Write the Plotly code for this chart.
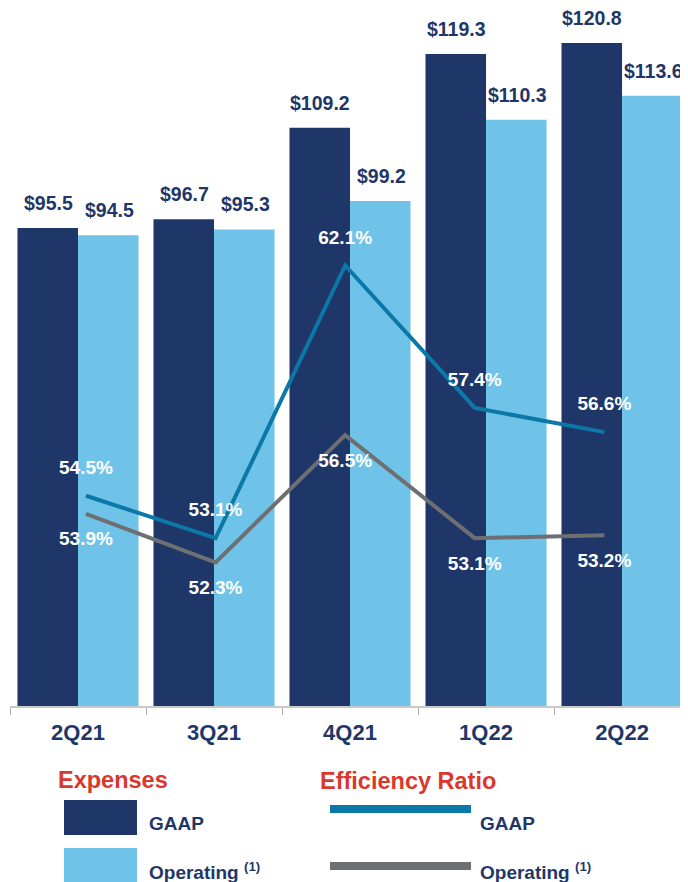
import plotly.graph_objects as go

quarters = ['2Q21', '3Q21', '4Q21', '1Q22', '2Q22']
expenses_gaap = [95.5, 96.7, 109.2, 119.3, 120.8]
expenses_operating = [94.5, 95.3, 99.2, 110.3, 113.6]
eff_gaap = [54.5, 53.1, 62.1, 57.4, 56.6]
eff_operating = [53.9, 52.3, 56.5, 53.1, 53.2]

NAVY = '#1F3768'
LIGHT = '#6FC3E8'
TEAL = '#0B78A8'
GRAY = '#6E6F72'
RED = '#D9382C'
FONT = 'Liberation Sans, Arial, sans-serif'

# the page body adds an 8px margin, so the figure is 8px smaller than the window
OFF = 8
W, H = 688 - OFF, 882 - OFF
AXIS_ROW = 706  # window row of the x axis
PLOT_H = AXIS_ROW - OFF


def py(y):
    # window row -> paper coordinate
    return (AXIS_ROW - y) / PLOT_H


def pxx(x):
    return (x - OFF) / W


fig = go.Figure()

fig.add_trace(go.Bar(x=quarters, y=expenses_gaap, marker_color=NAVY,
                     marker_line_width=0, name='GAAP'))
fig.add_trace(go.Bar(x=quarters, y=expenses_operating, marker_color=LIGHT,
                     marker_line_width=0, name='Operating'))

idx = list(range(len(quarters)))
for vals, color, pos in ((eff_gaap, TEAL, 'top center'), (eff_operating, GRAY, 'bottom center')):
    fig.add_trace(go.Scatter(x=idx, y=vals, xaxis='x2', yaxis='y2',
                             mode='lines+markers+text', line=dict(color=color, width=4),
                             marker=dict(size=26, opacity=0),
                             text=[f'{v:.1f}%' for v in vals],
                             textposition=pos,
                             textfont=dict(family=FONT, size=19, color='white', weight='bold'),
                             cliponaxis=False))

annotations = []
for q, g, o in zip(quarters, expenses_gaap, expenses_operating):
    for val, shift in ((g, -30), (o, 31)):
        annotations.append(dict(x=q, y=val, xref='x', yref='y', text=f'${val:.1f}',
                                showarrow=False, xshift=shift, yshift=12, yanchor='bottom',
                                font=dict(family=FONT, size=19.5, color=NAVY, weight='bold')))


# custom legend
def label(text, x, y, color, size):
    annotations.append(dict(x=pxx(x), y=py(y), xref='paper', yref='paper', text=text,
                            showarrow=False, xanchor='left', yanchor='middle',
                            font=dict(family=FONT, size=size, color=color, weight='bold')))


label('Expenses', 56, 780, RED, 23.5)
label('Efficiency Ratio', 318, 781, RED, 23.5)
label('GAAP', 147, 824, NAVY, 19)
label('Operating <sup>(1)</sup>', 147, 871, NAVY, 19)
label('GAAP', 478, 824, NAVY, 19)
label('Operating <sup>(1)</sup>', 478, 871, NAVY, 19)

shapes = []


def box(x0, y0, x1, y1, color):
    shapes.append(dict(type='rect', xref='paper', yref='paper',
                       x0=pxx(x0), x1=pxx(x1), y0=py(y1), y1=py(y0),
                       fillcolor=color, line_width=0))


box(64, 800, 137, 835, NAVY)
box(64, 848, 137, 890, LIGHT)
box(330, 805, 471, 813, TEAL)
box(330, 862, 471, 870, GRAY)

fig.update_layout(
    width=W, height=H,
    margin=dict(l=0, r=0, t=0, b=H - PLOT_H),
    paper_bgcolor='white', plot_bgcolor='white',
    barmode='group', bargap=0.11, bargroupgap=0,
    showlegend=False,
    xaxis=dict(domain=[2 / W, 1], range=[-0.5, 4.485], showline=True,
               linecolor='#C9C9C9', linewidth=1.5, ticks='outside',
               tickson='boundaries', ticklen=7, tickcolor='#B5AEA8',
               ticklabelstandoff=6, showgrid=False, zeroline=False,
               tickfont=dict(family=FONT, size=22, color=NAVY, weight='bold')),
    xaxis2=dict(overlaying='x', range=[-0.586, 4.645], visible=False),
    yaxis=dict(range=[30.1, 125.6], visible=False),
    yaxis2=dict(overlaying='y', range=[47.56, 70.6], visible=False),
    annotations=annotations,
    shapes=shapes,
)

fig.write_html('out.html')
